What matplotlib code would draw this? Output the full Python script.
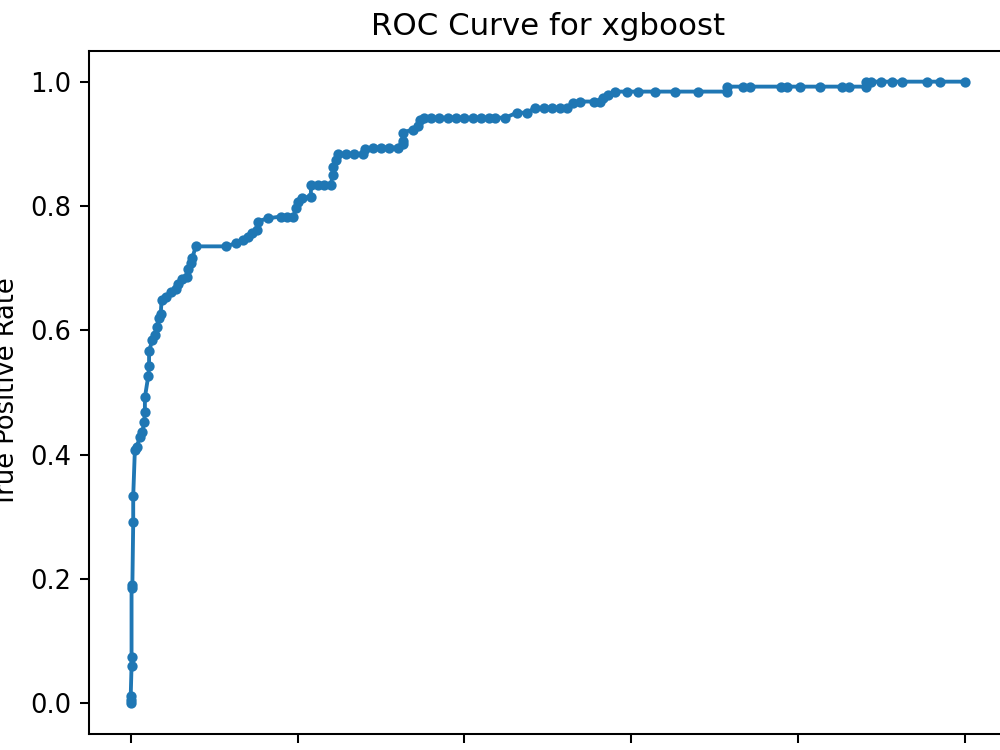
import matplotlib
matplotlib.use("Agg")
import matplotlib.pyplot as plt
from matplotlib.transforms import Bbox

title = "ROC Curve for xgboost"
xlabel = "False Positive Rate"
ylabel = "True Positive Rate"

fpr = [0.0, 0.0, 0.0, 0.001, 0.001, 0.001, 0.002, 0.003, 0.003, 0.005,
       0.007, 0.011, 0.014, 0.016, 0.017, 0.017, 0.021, 0.022, 0.022, 0.026,
       0.029, 0.031, 0.034, 0.036, 0.037, 0.042, 0.048, 0.054, 0.057, 0.062,
       0.067, 0.069, 0.072, 0.074, 0.078, 0.114, 0.126, 0.135, 0.141, 0.146,
       0.151, 0.152, 0.164, 0.180, 0.187, 0.195, 0.198, 0.200, 0.205, 0.216,
       0.216, 0.225, 0.232, 0.240, 0.242, 0.243, 0.246, 0.248, 0.258, 0.268,
       0.279, 0.281, 0.290, 0.300, 0.310, 0.320, 0.326, 0.326, 0.326, 0.338,
       0.344, 0.347, 0.351, 0.360, 0.370, 0.380, 0.390, 0.400, 0.410, 0.420,
       0.430, 0.437, 0.449, 0.463, 0.475, 0.485, 0.495, 0.505, 0.515, 0.523,
       0.530, 0.539, 0.555, 0.563, 0.566, 0.572, 0.581, 0.595, 0.608, 0.629,
       0.653, 0.680, 0.715, 0.715, 0.734, 0.742, 0.780, 0.787, 0.802, 0.826,
       0.853, 0.861, 0.882, 0.882, 0.888, 0.900, 0.913, 0.925, 0.955, 0.970,
       1.0]
tpr = [0.0, 0.005, 0.011, 0.060, 0.074, 0.185, 0.190, 0.291, 0.333, 0.408,
       0.412, 0.428, 0.436, 0.452, 0.468, 0.492, 0.526, 0.542, 0.566, 0.585,
       0.592, 0.606, 0.620, 0.626, 0.649, 0.653, 0.661, 0.666, 0.674, 0.682,
       0.685, 0.698, 0.709, 0.717, 0.735, 0.735, 0.740, 0.745, 0.750, 0.757,
       0.762, 0.775, 0.780, 0.783, 0.783, 0.783, 0.796, 0.807, 0.813, 0.815,
       0.834, 0.834, 0.834, 0.834, 0.850, 0.862, 0.874, 0.884, 0.884, 0.884,
       0.884, 0.892, 0.894, 0.894, 0.894, 0.894, 0.899, 0.904, 0.918, 0.923,
       0.928, 0.939, 0.942, 0.942, 0.942, 0.942, 0.942, 0.942, 0.942, 0.942,
       0.942, 0.942, 0.942, 0.950, 0.950, 0.958, 0.958, 0.958, 0.958, 0.958,
       0.966, 0.968, 0.968, 0.968, 0.974, 0.979, 0.984, 0.984, 0.984, 0.984,
       0.984, 0.984, 0.984, 0.992, 0.992, 0.992, 0.992, 0.992, 0.992, 0.992,
       0.992, 0.992, 0.992, 1.0, 1.0, 1.0, 1.0, 1.0, 1.0, 1.0,
       1.0]

DPI = 185
fig, ax = plt.subplots(figsize=(6.4, 4.8), dpi=DPI)
ax.plot(fpr, tpr, marker=".")
ax.set_title(title)
ax.set_xlabel(xlabel)
ax.set_ylabel(ylabel)

# crop of the full rendering (pixel box in the full figure, top-down coords)
full_h = 4.8 * DPI
x0, y0_top, w, h = 59, 56, 1000, 750
bbox = Bbox.from_bounds(x0 / DPI, (full_h - y0_top - h) / DPI, w / DPI, h / DPI)
fig.savefig("out.png", dpi=DPI, bbox_inches=bbox)
